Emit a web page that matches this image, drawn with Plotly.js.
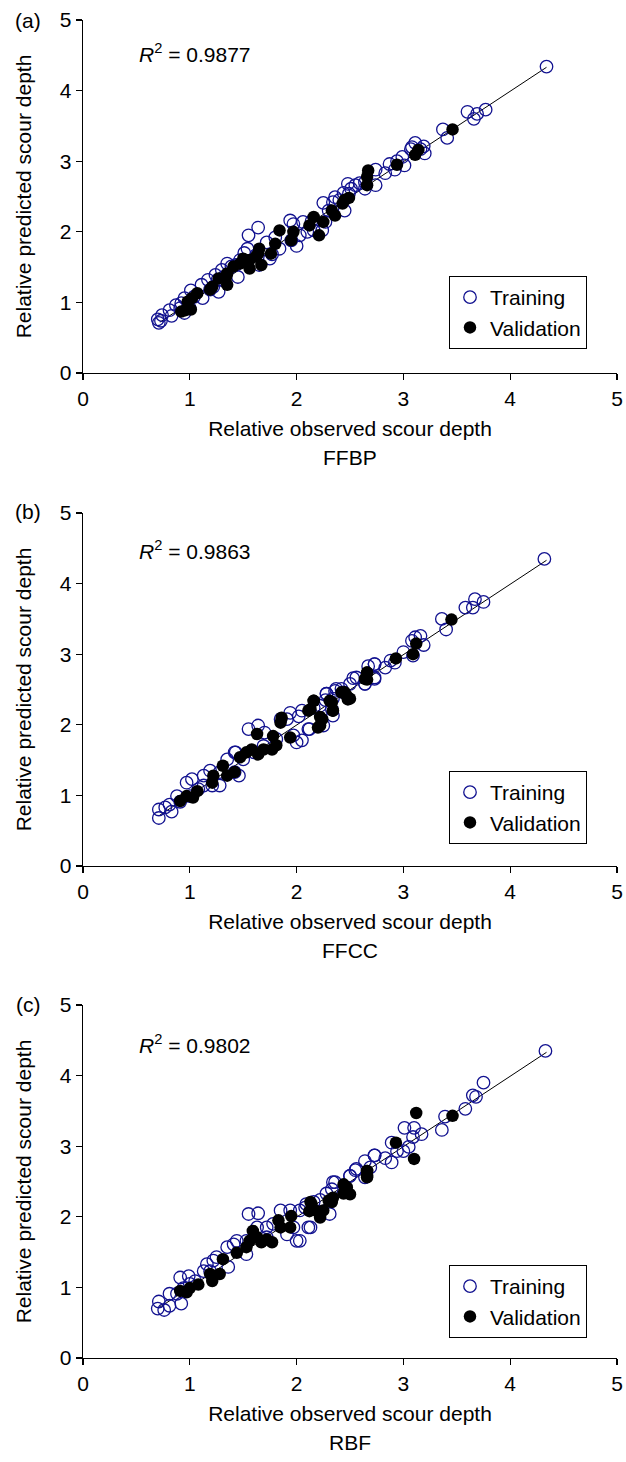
<!DOCTYPE html>
<html>
<head>
<meta charset="utf-8">
<script src="https://cdn.plot.ly/plotly-3.0.1.min.js"></script>
<style>body{margin:0;padding:0;background:#fff;} #chart{width:626px;height:1462px;}</style>
</head>
<body>
<div id="chart"></div>
<script>
// ---------- DATA ----------
const tickVals = [0, 1, 2, 3, 4, 5];
const panelLabels = ['(a)', '(b)', '(c)'];
const modelNames = ['FFBP', 'FFCC', 'RBF'];
const r2Labels = ['0.9877', '0.9863', '0.9802'];
const seriesNames = ['Training', 'Validation'];
const xTitle = 'Relative observed scour depth';
const yTitle = 'Relative predicted scour depth';

const lineX = [0.72, 4.34];
const lineY = [0.72, 4.33];

// Panel (a) FFBP
const trainA_x = [4.34,3.60,3.69,3.66,3.77,3.37,3.41,3.11,3.07,3.19,3.20,3.16,2.87,2.94,3.01,2.92,2.83,2.74,2.74,2.64,2.64,2.51,2.49,2.48,2.44,2.36,2.34,2.25,2.45,2.30,2.27,2.24,2.10,2.06,1.97,1.94,2.00,1.95,1.84,1.77,1.75,1.80,1.72,1.64,1.55,1.51,1.47,1.43,1.35,1.30,1.32,1.26,1.17,1.11,1.19,1.27,1.45,1.01,1.04,1.12,0.95,0.92,0.87,0.81,0.83,0.74,0.70,0.71,0.73,0.95,1.00,0.91,1.54,1.62,1.39,1.65,2.03,2.16,2.14,2.40,2.55,2.59,2.99,3.08,1.22,1.24];
const trainA_y = [4.34,3.70,3.67,3.60,3.73,3.45,3.33,3.26,3.17,3.21,3.11,3.17,2.96,3.00,2.94,2.88,2.83,2.88,2.66,2.61,2.70,2.61,2.54,2.68,2.55,2.49,2.42,2.41,2.30,2.30,2.14,2.02,2.00,2.14,2.11,2.16,1.80,1.88,1.76,1.68,1.62,1.92,1.85,2.06,1.95,1.70,1.60,1.53,1.55,1.46,1.36,1.32,1.32,1.25,1.18,1.15,1.36,1.17,1.08,1.06,1.06,0.99,0.96,0.89,0.81,0.82,0.76,0.71,0.74,0.85,0.92,0.92,1.76,1.67,1.51,1.53,1.95,2.02,2.15,2.45,2.66,2.69,3.06,3.20,1.22,1.39];
const validA_x = [3.46,3.14,3.11,2.94,2.67,2.66,2.66,2.49,2.45,2.43,2.33,2.36,2.25,2.16,2.12,2.21,1.97,1.84,1.95,1.80,1.76,1.65,1.64,1.67,1.56,1.56,1.50,1.41,1.35,1.34,1.35,1.27,1.21,1.19,1.07,1.02,0.98,1.01,0.92,0.96,1.47,1.62];
const validA_y = [3.45,3.16,3.09,2.95,2.87,2.78,2.66,2.48,2.45,2.40,2.30,2.23,2.14,2.21,2.09,1.95,2.00,2.02,1.88,1.83,1.69,1.76,1.69,1.53,1.48,1.60,1.62,1.51,1.41,1.36,1.25,1.34,1.22,1.18,1.13,1.06,1.01,0.90,0.87,0.89,1.55,1.65];

// Panel (b) FFCC
const trainB_x = [0.71,0.71,0.81,0.83,0.88,0.97,1.02,1.08,1.13,1.19,1.21,1.28,1.35,1.43,1.42,1.46,1.55,1.64,1.60,1.69,1.70,1.85,1.94,2.02,2.00,2.05,2.12,2.28,2.27,2.34,2.34,2.37,2.44,2.56,2.64,2.67,2.73,2.73,2.16,2.22,1.91,1.97,1.81,1.42,1.50,1.28,1.13,1.00,0.91,0.77,4.32,3.58,3.67,3.65,3.75,3.36,3.40,3.11,3.16,3.19,3.08,3.09,3.00,2.88,2.92,2.83,2.73,2.73,2.64,2.53,2.50,2.42,2.36,2.28,2.33,2.11,2.25,2.05];
const trainB_y = [0.80,0.68,0.87,0.77,0.99,1.18,1.23,1.09,1.28,1.35,1.14,1.14,1.51,1.61,1.33,1.28,1.94,1.99,1.61,1.70,1.89,2.08,2.17,2.12,1.75,2.20,1.94,2.44,2.35,2.37,2.13,2.51,2.46,2.67,2.58,2.83,2.86,2.67,2.24,2.27,2.08,1.85,1.80,1.61,1.51,1.33,1.14,0.99,0.91,0.83,4.35,3.66,3.78,3.66,3.74,3.50,3.35,3.24,3.26,3.13,3.19,2.98,3.03,2.91,2.88,2.81,2.86,2.65,2.58,2.66,2.58,2.51,2.48,2.44,2.22,1.94,1.99,1.78];
const validB_x = [0.91,0.97,1.03,1.07,1.21,1.22,1.31,1.35,1.42,1.47,1.53,1.58,1.64,1.63,1.69,1.77,1.78,1.85,1.86,1.94,1.81,2.13,2.16,2.22,2.24,2.31,2.34,2.45,2.50,2.66,2.66,3.45,3.12,3.09,2.93,2.66,2.64,2.47,2.42,2.48,2.33,2.34,2.16,2.11,2.22,2.20];
const validB_y = [0.92,0.99,0.97,1.06,1.18,1.28,1.42,1.28,1.33,1.54,1.61,1.65,1.58,1.87,1.65,1.65,1.84,2.03,2.10,1.82,1.71,2.22,2.34,1.99,2.08,2.34,2.20,2.46,2.37,2.74,2.64,3.49,3.15,3.00,2.94,2.74,2.65,2.41,2.46,2.36,2.32,2.20,2.34,2.20,2.11,1.96];

// Panel (c) RBF
const trainC_x = [0.71,0.70,0.76,0.81,0.81,0.92,0.94,0.91,0.99,1.05,1.13,1.16,1.22,1.35,1.41,1.36,1.53,1.55,1.64,1.63,1.72,1.53,1.85,1.94,2.00,2.03,2.13,2.16,2.28,2.34,2.22,2.31,2.50,2.56,2.64,2.73,2.69,1.78,1.72,1.44,1.25,1.19,1.00,0.88,1.97,1.91,2.09,4.33,3.75,3.65,3.68,3.58,3.39,3.36,3.10,3.01,3.17,3.09,2.89,2.94,3.00,3.05,2.73,2.89,2.83,2.64,2.55,2.50,2.36,2.33,2.11,2.08,2.03];
const trainC_y = [0.80,0.70,0.68,0.74,0.91,0.77,0.99,1.14,1.16,1.09,1.23,1.33,1.38,1.57,1.61,1.29,1.66,2.04,2.05,1.85,1.71,1.47,2.09,2.09,1.66,2.09,1.85,2.21,2.33,2.49,2.24,2.04,2.58,2.68,2.56,2.87,2.70,1.90,1.85,1.66,1.43,1.23,1.05,0.91,1.85,1.75,2.18,4.35,3.90,3.72,3.70,3.53,3.42,3.23,3.26,3.26,3.17,3.13,3.05,2.93,2.93,2.99,2.87,2.77,2.83,2.79,2.66,2.58,2.49,2.39,1.85,2.13,1.66];
const validC_x = [0.91,0.97,1.00,1.08,1.19,1.21,1.28,1.31,1.44,1.53,1.56,1.63,1.67,1.72,1.77,1.83,1.85,1.95,1.94,2.13,2.22,2.25,2.33,2.44,2.47,2.66,2.66,1.59,3.12,3.46,2.93,3.10,2.66,2.66,2.47,2.50,2.44,2.34,2.30,2.14,2.22,2.19,2.12];
const validC_y = [0.95,0.93,0.99,1.04,1.19,1.09,1.19,1.40,1.49,1.57,1.66,1.71,1.64,1.68,1.64,1.95,1.85,2.01,1.85,2.21,2.02,2.09,2.21,2.33,2.37,2.65,2.58,1.80,3.47,3.43,3.05,2.82,2.65,2.56,2.42,2.32,2.46,2.27,2.23,2.18,1.99,2.08,2.08];

const panels = [
  {tx: trainA_x, ty: trainA_y, vx: validA_x, vy: validA_y},
  {tx: trainB_x, ty: trainB_y, vx: validB_x, vy: validB_y},
  {tx: trainC_x, ty: trainC_y, vx: validC_x, vy: validC_y}
];

// ---------- LAYOUT GEOMETRY (pixels) ----------
const W = 626, H = 1462;
const L = 83, R = 617, T = 20, B = 1358;
const panelTop = [20, 513, 1005];
const panelH = 353;
const r2Y = [53, 550, 1044];
const legendTop = [276, 771, 1265];
const labelY = [20, 512, 1004];
const modelGap = 84;

const px = x => (x - L) / (R - L);
const py = y => (B - y) / (B - T);

const FONT = 'Liberation Sans, Arial, Helvetica, sans-serif';
const FS = 21;

const traces = [];
const layout = {
  width: W, height: H,
  margin: {l: L, r: W - R, t: T, b: H - B, pad: 0, autoexpand: false},
  paper_bgcolor: '#fff', plot_bgcolor: '#fff',
  font: {family: FONT, size: FS, color: '#000'},
  showlegend: true,
  annotations: []
};

panels.forEach((p, i) => {
  const k = i === 0 ? '' : String(i + 1);
  const xa = 'x' + k, ya = 'y' + k;
  const lg = 'legend' + k;
  traces.push({x: lineX, y: lineY, type: 'scatter', mode: 'lines', xaxis: xa, yaxis: ya,
    line: {color: '#000', width: 1}, showlegend: false, hoverinfo: 'skip'});
  traces.push({x: p.tx, y: p.ty, type: 'scatter', mode: 'markers', name: seriesNames[0], xaxis: xa, yaxis: ya, legend: lg,
    marker: {symbol: 'circle-open', size: 12.5, color: '#121290', line: {width: 1.3, color: '#121290'}}});
  traces.push({x: p.vx, y: p.vy, type: 'scatter', mode: 'markers', name: seriesNames[1], xaxis: xa, yaxis: ya, legend: lg,
    marker: {symbol: 'circle', size: 12.5, color: '#000', line: {width: 0}}});

  const top = panelTop[i], bot = top + panelH;
  const common = {
    range: [0, 5], tickvals: tickVals, ticks: 'outside', ticklen: 6, tickwidth: 1.3, tickcolor: '#000',
    showline: true, linecolor: '#000', linewidth: 1.3, showgrid: false, zeroline: false,
    tickfont: {family: FONT, size: FS, color: '#000'}, fixedrange: true
  };
  layout['xaxis' + k] = Object.assign({}, common, {
    domain: [0, 1], anchor: ya, automargin: true,
    title: {text: xTitle, standoff: 12, font: {family: FONT, size: FS, color: '#000'}}
  });
  layout['yaxis' + k] = Object.assign({}, common, {
    domain: [py(bot), py(top)], anchor: xa,
    title: {text: yTitle, font: {family: FONT, size: FS, color: '#000'}}
  });
  layout[lg] = {
    x: px(449), y: py(legendTop[i]), xanchor: 'left', yanchor: 'top', xref: 'paper', yref: 'paper',
    bordercolor: '#000', borderwidth: 1, bgcolor: '#fff',
    font: {family: FONT, size: FS, color: '#000'}, itemsizing: 'trace'
  };
  layout.annotations.push({
    text: '<i>R</i><sup>2</sup> = ' + r2Labels[i], xref: 'paper', yref: 'paper',
    x: px(137), y: py(r2Y[i]), xanchor: 'left', yanchor: 'middle', showarrow: false,
    font: {family: FONT, size: FS, color: '#000'}
  });
  layout.annotations.push({
    text: panelLabels[i], xref: 'paper', yref: 'paper',
    x: px(28), y: py(labelY[i]), xanchor: 'center', yanchor: 'middle', showarrow: false,
    font: {family: FONT, size: FS, color: '#000'}
  });
  layout.annotations.push({
    text: modelNames[i], xref: 'paper', yref: 'paper',
    x: 0.5, y: py(bot + modelGap), xanchor: 'center', yanchor: 'middle', showarrow: false,
    font: {family: FONT, size: FS, color: '#000'}
  });
});

Plotly.newPlot('chart', traces, layout, {staticPlot: true, displayModeBar: false});
</script>
</body>
</html>
